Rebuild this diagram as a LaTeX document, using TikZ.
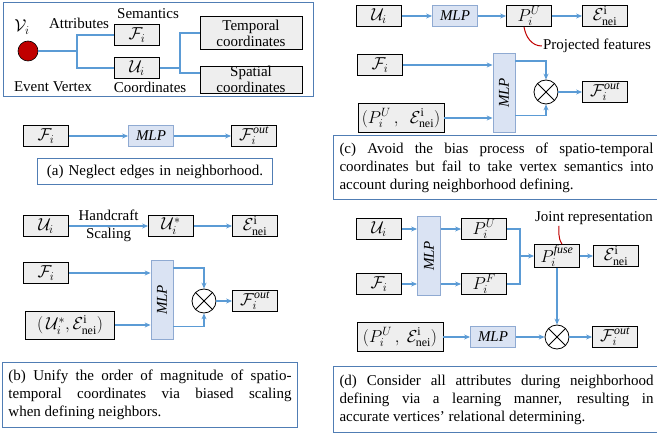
\documentclass[tikz,border=0pt]{standalone}
\usepackage{amsmath,amssymb}
\usepackage{fontspec}
\setmainfont{Liberation Serif}
\usepackage{tikz}
\usetikzlibrary{arrows.meta}
\usepackage{xcolor}

\definecolor{linkblue}{RGB}{91,155,213}
\definecolor{mlpfill}{RGB}{218,227,243}
\definecolor{mlpedge}{RGB}{143,170,210}
\definecolor{boxgray}{RGB}{238,238,238}
\definecolor{capblue}{RGB}{80,125,180}
\definecolor{vred}{RGB}{192,0,0}

\tikzset{
  box/.style={draw=black,fill=boxgray,line width=0.8pt,minimum width=45pt,minimum height=21pt,inner sep=0.5pt,font=\fontsize{17}{19}\selectfont},
  textbox/.style={box,minimum width=102pt,align=center,inner sep=0pt,font=\fontsize{15}{18}\selectfont},
  mlpbox/.style={draw=mlpedge,fill=mlpfill,line width=0.8pt,minimum width=45pt,minimum height=21pt,inner sep=1pt},
  mlpvert/.style={mlpbox,minimum width=22pt,minimum height=79pt},
  prod/.style={circle,draw=black,fill=white,line width=0.8pt,minimum size=24pt,inner sep=0pt,
    path picture={\draw[line width=0.8pt] (path picture bounding box.north west) -- (path picture bounding box.south east)
      (path picture bounding box.north east) -- (path picture bounding box.south west);}},
  vertex/.style={circle,draw=black,fill=vred,line width=0.6pt,minimum size=20pt,inner sep=0pt},
  link/.style={draw=linkblue,line width=1.2pt},
  flow/.style={link,->},
  pointer/.style={draw=vred,line width=1pt},
  frame/.style={draw=capblue,line width=1pt},
  capbox/.style={draw=capblue,line width=1pt,anchor=north west,align=justify,inner xsep=6pt,inner ysep=3pt},
  note/.style={inner sep=1pt}
}
% one justified line of a caption
\newcommand{\jline}[2]{\makebox[#1][s]{\spaceskip=0pt\relax #2}\\}

\begin{document}
\begin{tikzpicture}[x=1pt,y=-1pt,>={Stealth[length=6pt,width=5pt]},font=\fontsize{15}{18}\selectfont]
\useasboundingbox (0,0) rectangle (657,433);

% vertex attributes
\draw[frame] (3,3) rectangle (313,97);
\node[vertex] (v) at (28,51) {};
\node[note,font=\fontsize{17}{19}\selectfont] (vlab) at (22,27) {$\mathcal{V}_i$};
\node[note] (attr) at (79,23) {Attributes};
\node[note] (sem) at (148,14) {Semantics};
\node[note] (evt) at (53,87) {Event Vertex};
\node[note] (crd) at (150,87) {Coordinates};
\node[box] (tF) at (137,35) {$\mathcal{F}_i$};
\node[box] (tU) at (137,68) {$\mathcal{U}_i$};
\node[textbox,minimum height=33pt] (tT) at (251,33) {Temporal\\[-2pt]coordinates};
\node[textbox,minimum height=27pt] (tS) at (251,79.5) {Spatial\\[-2pt]coordinates};
\coordinate (br1) at (77,51);
\coordinate (br2) at (180,68);
\draw[link] (v) -- (br1) |- (tF);
\draw[link] (br1) |- (tU);
\draw[link] (tU) -- (br2) |- (tT);
\draw[link] (br2) |- ([yshift=6.5pt]tS.west);

% (a)
\node[box] (aF) at (46,136) {$\mathcal{F}_i$};
\node[mlpbox] (aM) at (151,136) {$\mathit{MLP}$};
\node[box] (aO) at (254,136) {$\mathcal{F}^{\mathit{out}}_i$};
\draw[flow] (aF) -- (aM);
\draw[flow] (aM) -- (aO);
\node[capbox,text width=223pt,minimum height=26pt,align=center] (aCap) at (37,158) {(a) Neglect edges in neighborhood.};

% (b)
\node[box] (bU) at (46,226) {$\mathcal{U}_i$};
\node[box] (bUs) at (171,226) {$\mathcal{U}^{*}_i$};
\node[box] (bE) at (255,226) {$\mathcal{E}^{\mathrm{i}}_{\mathrm{nei}}$};
\draw[flow] (bU) -- (bUs) node[midway,above=4pt,note] {Handcraft} node[midway,below=0pt,note] {Scaling};
\draw[flow] (bUs) -- (bE);
\node[box] (bF) at (46,273) {$\mathcal{F}_i$};
\node[mlpvert] (bM) at (162,300) {\rotatebox{90}{$\mathit{MLP}$}};
\node[box,minimum width=89pt,minimum height=28pt] (bP) at (70,325) {$(\,\mathcal{U}^{*}_i,\mathcal{E}^{\mathrm{i}}_{\mathrm{nei}})$};
\node[prod] (bX) at (204,301) {};
\node[box] (bO) at (255,301) {$\mathcal{F}^{\mathit{out}}_i$};
\draw[flow] (bF) -- (bF -| bM.west);
\draw[flow] (bP) -- (bP -| bM.west);
\draw[flow] ([yshift=-8pt]bM.north east) -| (bX);
\draw[flow] ([yshift=13pt]bM.south east) -| (bX);
\draw[flow] (bX) -- (bO);
\node[capbox,text width=283pt,minimum height=65pt] (bCap) at (2,362) {\jline{283pt}{(b) Unify the order of magnitude of spatio-}\jline{283pt}{temporal coordinates via biased scaling}when defining neighbors.};

% (c)
\node[box] (cU) at (379,16) {$\mathcal{U}_i$};
\node[mlpbox] (cM) at (455,16) {$\mathit{MLP}$};
\node[box] (cP) at (529,16) {$P^{U}_i$};
\node[box] (cE) at (605,16) {$\mathcal{E}^{\mathrm{i}}_{\mathrm{nei}}$};
\draw[flow] (cU) -- (cM);
\draw[flow] (cM) -- (cP);
\draw[flow] (cP) -- (cE);
\node[note] (cPj) at (597,46) {Projected features};
\draw[pointer] ([xshift=-5pt]cP.south) to[out=-80,in=180] (cPj.west);
\node[box] (cF) at (380,65) {$\mathcal{F}_i$};
\node[mlpvert] (cMv) at (504,93) {\rotatebox{90}{$\mathit{MLP}$}};
\node[prod] (cX) at (546,92) {};
\node[box] (cO) at (605,92) {$\mathcal{F}^{\mathit{out}}_i$};
\node[box,minimum width=86pt,minimum height=29pt] (cPE) at (401,118) {$(P^{U}_i\,,\ \ \mathcal{E}^{\mathrm{i}}_{\mathrm{nei}})$};
\draw[flow] (cF) -- (cF -| cMv.west);
\draw[flow] (cPE) -- (cPE -| cMv.west);
\draw[flow] ([yshift=-8pt]cMv.north east) -| (cX);
\draw[flow] ([yshift=17pt]cMv.south east) -| (cX);
\draw[flow] (cX) -- (cO);
\node[capbox,text width=314pt,minimum height=64pt] (cCap) at (333,135) {\jline{314pt}{(c) Avoid the bias process of spatio-temporal}\jline{314pt}{coordinates but fail to take vertex semantics into}account during neighborhood defining.};

% (d)
\node[box] (dU) at (379,229) {$\mathcal{U}_i$};
\node[box] (dF) at (379,284) {$\mathcal{F}_i$};
\node[mlpvert,minimum width=23pt] (dM) at (429,256) {\rotatebox{90}{$\mathit{MLP}$}};
\node[box] (dPU) at (484,229) {$P^{U}_i$};
\node[box] (dPF) at (484,284) {$P^{F}_i$};
\node[box] (dPf) at (557,256) {$P^{\mathit{fuse}}_i$};
\node[box] (dE) at (616,256) {$\mathcal{E}^{\mathrm{i}}_{\mathrm{nei}}$};
\node[note] (dJ) at (594,218) {Joint representation};
\coordinate (dJoin) at (520,256);
\draw[flow] (dU) -- (dU -| dM.west);
\draw[flow] (dF) -- (dF -| dM.west);
\draw[flow] (dPU -| dM.east) -- (dPU);
\draw[flow] (dPF -| dM.east) -- (dPF);
\draw[link] (dPU) -| (dJoin);
\draw[link] (dPF) -| (dJoin);
\draw[flow] (dJoin) -- (dPf);
\draw[flow] (dPf) -- (dE);
\draw[pointer] ([xshift=5pt]dPf.north) .. controls +(-4,-6) and +(0,6) .. ([xshift=-35pt]dJ.south);
\node[box,minimum width=86pt,minimum height=29pt] (dPE) at (400,337) {$(P^{U}_i\,,\ \mathcal{E}^{\mathrm{i}}_{\mathrm{nei}})$};
\node[mlpbox] (dM2) at (493,337) {$\mathit{MLP}$};
\node[prod] (dX) at (557,337) {};
\node[box] (dO) at (615,337) {$\mathcal{F}^{\mathit{out}}_i$};
\draw[flow] (dPf) -- (dX);
\draw[flow] (dPE) -- (dM2);
\draw[flow] (dM2) -- (dX);
\draw[flow] (dX) -- (dO);
\node[capbox,text width=314pt,minimum height=66pt] (dCap) at (333,366) {\jline{314pt}{(d) Consider all attributes during neighborhood}\jline{314pt}{defining via a learning manner, resulting in}accurate vertices’ relational determining.};
\end{tikzpicture}
\end{document}
